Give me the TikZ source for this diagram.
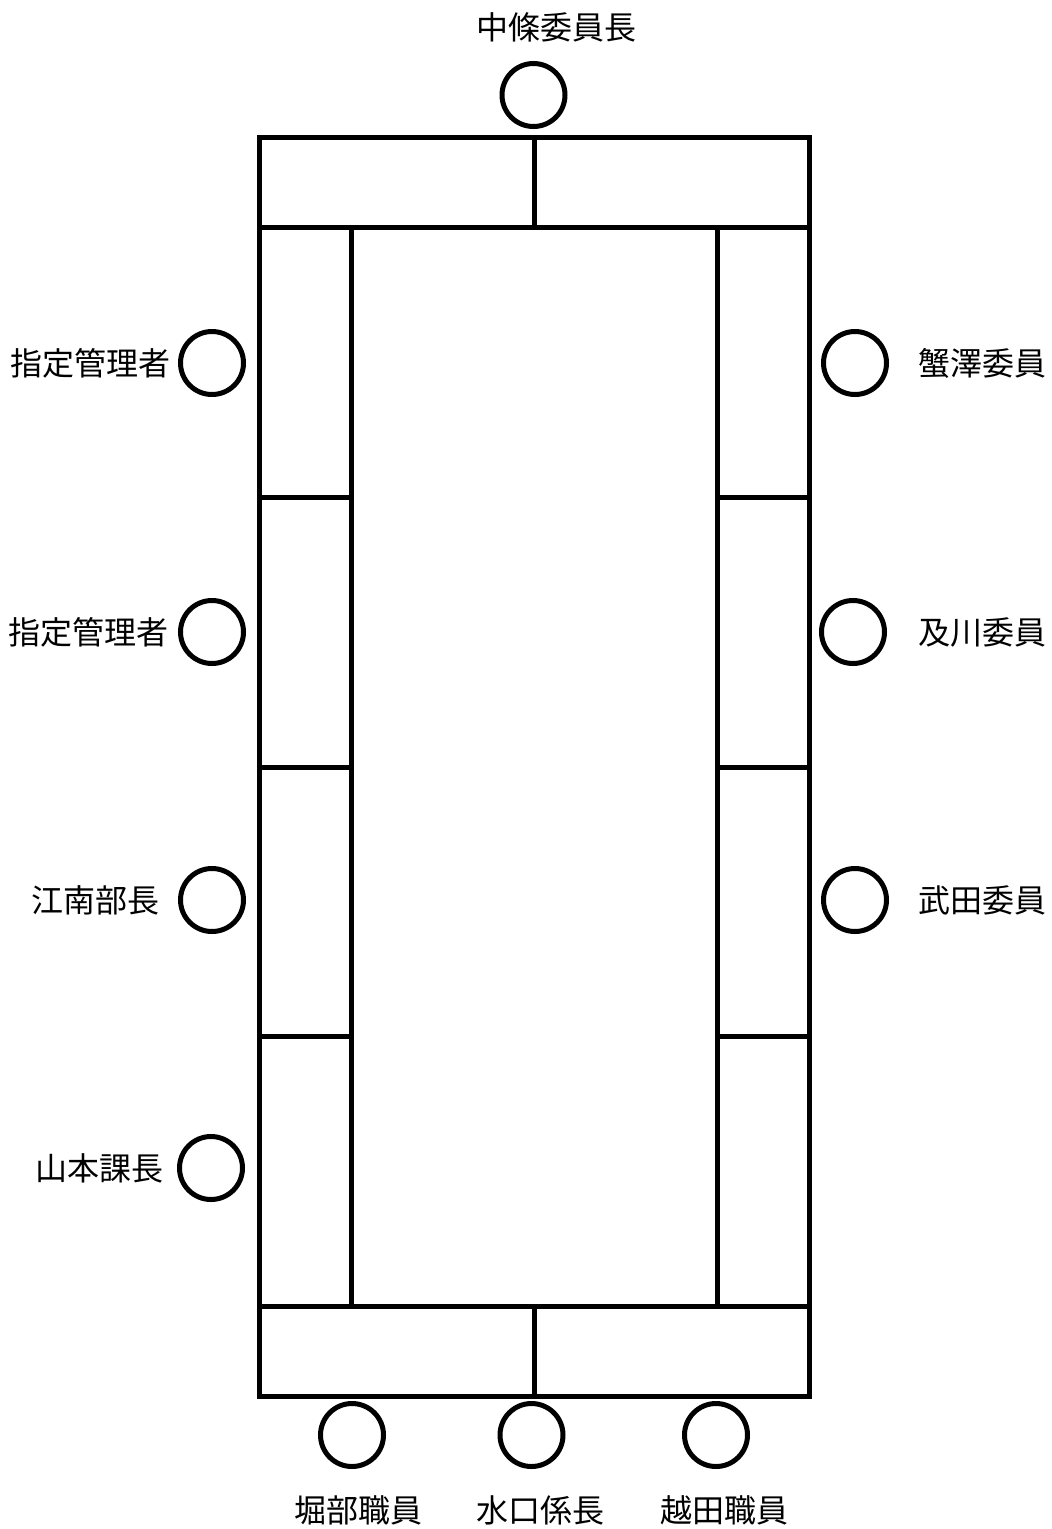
\documentclass[tikz,border=0pt]{standalone}
\usepackage{fontspec}
\newfontfamily\jpfont{Noto Sans CJK JP}
\begin{document}
\begin{tikzpicture}[x=1pt,y=-1pt,
  seat/.style={circle,draw,line width=5pt,minimum size=63pt,inner sep=0pt},
  lbl/.style={font=\jpfont\fontsize{32}{38}\selectfont,inner sep=0pt},
  tbl/.style={line width=5pt,line cap=rect}]
\useasboundingbox[fill=white] (0,0) rectangle (1052,1529);
% table
\draw[tbl] (259.5,137.5) rectangle (809,1396);
\draw[tbl] (259.5,227.5) -- (809,227.5);
\draw[tbl] (259.5,1306) -- (809,1306);
\draw[tbl] (534.5,137.5) -- (534.5,227.5);
\draw[tbl] (534.5,1306) -- (534.5,1396);
\draw[tbl] (351,227.5) -- (351,1306);
\draw[tbl] (717.5,227.5) -- (717.5,1306);
\foreach \yy in {497,767,1036}{
  \draw[tbl] (259.5,\yy) -- (351,\yy);
  \draw[tbl] (717.5,\yy) -- (809,\yy);
}
% seats
\node[seat] (top) at (533.5,95) {};
\node[seat] (l1) at (212,363) {};
\node[seat] (l2) at (212,632) {};
\node[seat] (l3) at (212,900) {};
\node[seat] (l4) at (211,1168) {};
\node[seat] (r1) at (855,363) {};
\node[seat] (r2) at (853,632) {};
\node[seat] (r3) at (855,900) {};
\node[seat] (b1) at (352,1435) {};
\node[seat] (b2) at (531.5,1435) {};
\node[seat] (b3) at (716,1435) {};
% labels
\node[lbl] (ttop) at (556,27) {中條委員長};
\node[lbl,anchor=east] (tl1) at (171,363) {指定管理者};
\node[lbl,anchor=east] (tl2) at (169,632) {指定管理者};
\node[lbl,anchor=east] (tl3) at (160,900) {江南部長};
\node[lbl,anchor=east] (tl4) at (164,1168) {山本課長};
\node[lbl,anchor=west] (tr1) at (918,363) {蟹澤委員};
\node[lbl,anchor=west] (tr2) at (918,632) {及川委員};
\node[lbl,anchor=west] (tr3) at (918,900) {武田委員};
\node[lbl] (tb1) at (358,1510) {堀部職員};
\node[lbl] (tb2) at (540,1510) {水口係長};
\node[lbl] (tb3) at (724,1510) {越田職員};
\end{tikzpicture}
\end{document}
